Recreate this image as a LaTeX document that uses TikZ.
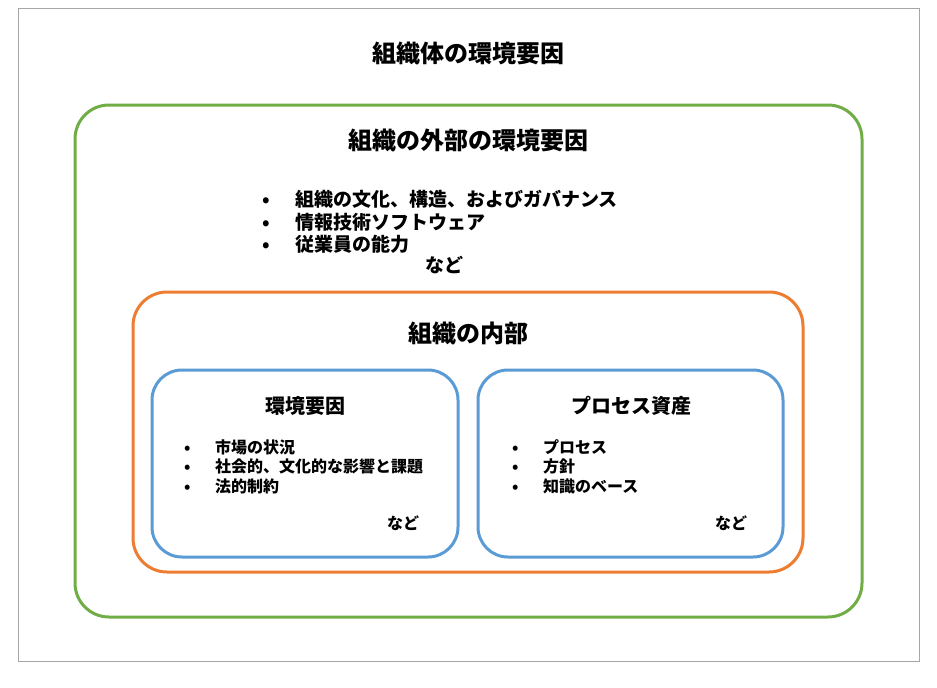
\documentclass[tikz,border=0pt]{standalone}
\usepackage{fontspec}
\newfontfamily\cjk{Noto Sans CJK JP}
\definecolor{outergreen}{HTML}{70AD47}
\definecolor{innerorange}{HTML}{ED7D31}
\definecolor{boxblue}{HTML}{5B9BD5}
\definecolor{framegray}{HTML}{A6A6A6}

\begin{document}
\begin{tikzpicture}[x=1pt,y=-1pt,
  head/.style={font=\cjk\bfseries\fontsize{24}{28}\selectfont,inner sep=0pt},
  subhead/.style={font=\cjk\bfseries\fontsize{20}{24}\selectfont,inner sep=0pt},
  bigitem/.style={font=\cjk\bfseries\fontsize{19}{23}\selectfont,inner sep=0pt,anchor=west},
  smallitem/.style={font=\cjk\bfseries\fontsize{16}{19}\selectfont,inner sep=0pt,anchor=west},
  region/.style={line width=3pt,rounded corners=34pt}]
\useasboundingbox (0,0) rectangle (937,688);
\draw[framegray,line width=0.8pt] (18,8) rectangle (919,661);
\node[head] (title) at (468,53) {組織体の環境要因};
% external environment
\draw[region,outergreen] (75,105) rectangle (862,617);
\node[head] (outer) at (468,140) {組織の外部の環境要因};
\node[bigitem] (ext1) at (262,199) {\makebox[33pt][l]{•}組織の文化、構造、およびガバナンス};
\node[bigitem] (ext2) at (262,222) {\makebox[33pt][l]{•}情報技術ソフトウェア};
\node[bigitem] (ext3) at (262,244) {\makebox[33pt][l]{•}従業員の能力};
\node[bigitem,anchor=center] (extetc) at (444,265) {など};
% internal
\draw[region,innerorange] (133,292) rectangle (803,572);
\node[head] (inner) at (468,333) {組織の内部};
\draw[region,boxblue,rounded corners=30pt] (152,370) rectangle (458,557);
\node[subhead] (env) at (305,406) {環境要因};
\node[smallitem] (env1) at (184,447) {\makebox[31pt][l]{•}市場の状況};
\node[smallitem] (env2) at (184,466) {\makebox[31pt][l]{•}社会的、文化的な影響と課題};
\node[smallitem] (env3) at (184,486) {\makebox[31pt][l]{•}法的制約};
\node[smallitem,anchor=center] (envetc) at (403,523) {など};
\draw[region,boxblue,rounded corners=30pt] (478,370) rectangle (783,557);
\node[subhead] (proc) at (631,406) {プロセス資産};
\node[smallitem] (proc1) at (512,447) {\makebox[31pt][l]{•}プロセス};
\node[smallitem] (proc2) at (512,466) {\makebox[31pt][l]{•}方針};
\node[smallitem] (proc3) at (512,486) {\makebox[31pt][l]{•}知識のベース};
\node[smallitem,anchor=center] (procetc) at (731,523) {など};
\end{tikzpicture}
\end{document}
